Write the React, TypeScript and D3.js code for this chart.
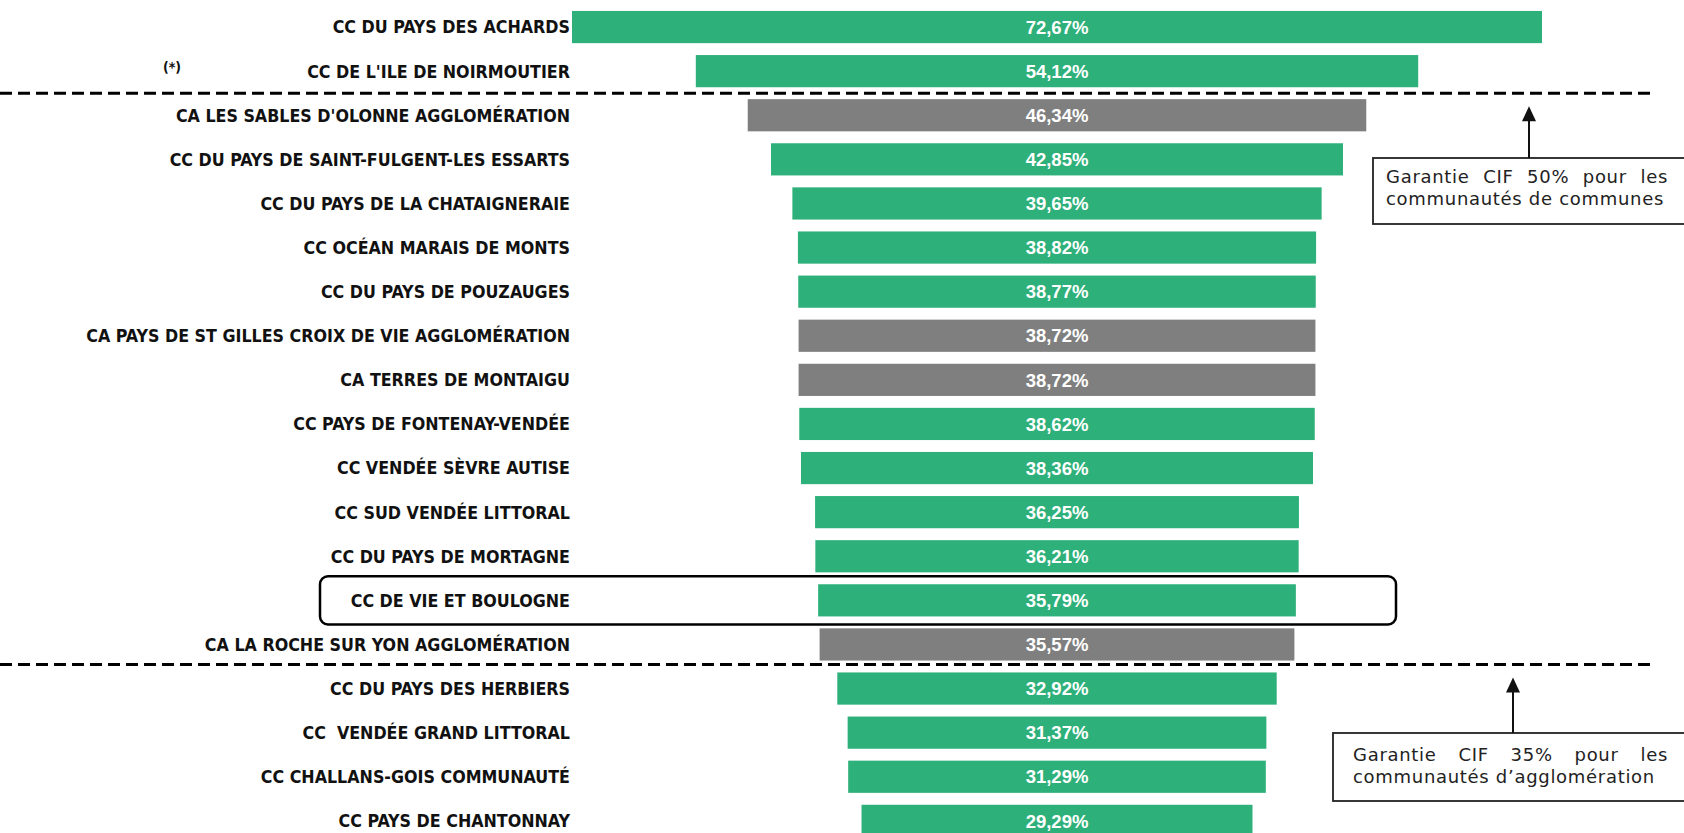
import React, { useEffect, useRef } from 'react';
import * as d3 from 'd3';

const categories = [
  'CC DU PAYS DES ACHARDS',
  "CC DE L'ILE DE NOIRMOUTIER",
  "CA LES SABLES D'OLONNE AGGLOMÉRATION",
  'CC DU PAYS DE SAINT-FULGENT-LES ESSARTS',
  'CC DU PAYS DE LA CHATAIGNERAIE',
  'CC OCÉAN MARAIS DE MONTS',
  'CC DU PAYS DE POUZAUGES',
  'CA PAYS DE ST GILLES CROIX DE VIE AGGLOMÉRATION',
  'CA TERRES DE MONTAIGU',
  'CC PAYS DE FONTENAY-VENDÉE',
  'CC VENDÉE SÈVRE AUTISE',
  'CC SUD VENDÉE LITTORAL',
  'CC DU PAYS DE MORTAGNE',
  'CC DE VIE ET BOULOGNE',
  'CA LA ROCHE SUR YON AGGLOMÉRATION',
  'CC DU PAYS DES HERBIERS',
  'CC  VENDÉE GRAND LITTORAL',
  'CC CHALLANS-GOIS COMMUNAUTÉ',
  'CC PAYS DE CHANTONNAY',
];

const values = [
  72.67, 54.12, 46.34, 42.85, 39.65, 38.82, 38.77, 38.72, 38.72, 38.62,
  38.36, 36.25, 36.21, 35.79, 35.57, 32.92, 31.37, 31.29, 29.29,
];

const kinds = [
  'CC', 'CC', 'CA', 'CC', 'CC', 'CC', 'CC', 'CA', 'CA', 'CC',
  'CC', 'CC', 'CC', 'CC', 'CA', 'CC', 'CC', 'CC', 'CC',
];

const highlighted = 'CC DE VIE ET BOULOGNE';
const footnoteRow = "CC DE L'ILE DE NOIRMOUTIER";
const separatorsAfter = [1, 14];

const note1Lines = ['Garantie CIF 50% pour les', 'communautés de communes'];
const note2Lines = ['Garantie CIF 35% pour les', 'communautés d’agglomération'];

const colors: Record<string, string> = { CC: '#2EB07B', CA: '#7F7F7F' };

export default function App() {
  const ref = useRef<SVGSVGElement>(null);

  useEffect(() => {
    const svg = d3.select(ref.current);
    svg.selectAll('*').remove();

    const cx = 1057;
    const step = 44.1;
    const y = d3
      .scaleBand<string>()
      .domain(categories)
      .range([5, 5 + categories.length * step])
      .paddingInner(0.27)
      .paddingOuter(0.135);
    const w = d3.scaleLinear().domain([0, 72.67]).range([0, 970]);
    const fmt = (v: number) => v.toFixed(2).replace('.', ',') + '%';

    // bars
    svg
      .append('g')
      .selectAll('rect')
      .data(categories)
      .join('rect')
      .attr('x', (d, i) => cx - w(values[i]) / 2)
      .attr('y', (d) => y(d)!)
      .attr('width', (d, i) => w(values[i]))
      .attr('height', y.bandwidth())
      .attr('fill', (d, i) => colors[kinds[i]]);

    // value labels
    svg
      .append('g')
      .selectAll('text')
      .data(categories)
      .join('text')
      .attr('x', cx)
      .attr('y', (d) => y(d)! + y.bandwidth() / 2)
      .attr('dy', '0.36em')
      .attr('text-anchor', 'middle')
      .attr('fill', '#fff')
      .attr('font-family', "'Liberation Sans', Arial, sans-serif")
      .attr('font-weight', 'bold')
      .attr('font-size', 18.5)
      .text((d, i) => fmt(values[i]));

    // category labels
    svg
      .append('g')
      .selectAll('text')
      .data(categories)
      .join('text')
      .attr('x', 570)
      .attr('y', (d) => y(d)! + y.bandwidth() / 2)
      .attr('dy', '0.36em')
      .attr('text-anchor', 'end')
      .attr('fill', '#111')
      .attr('font-family', "'DejaVu Sans Condensed', 'DejaVu Sans', sans-serif")
      .attr('font-stretch', 'condensed')
      .attr('font-weight', 'bold')
      .attr('font-size', 17.7)
      .style('white-space', 'pre')
      .text((d) => d);

    // footnote marker
    svg
      .append('text')
      .attr('x', 172)
      .attr('y', y(footnoteRow)! + y.bandwidth() / 2 - 4)
      .attr('dy', '0.36em')
      .attr('text-anchor', 'middle')
      .attr('fill', '#111')
      .attr('font-family', "'DejaVu Sans Condensed', sans-serif")
      .attr('font-weight', 'bold')
      .attr('font-size', 14)
      .text('(*)');

    // highlight box
    const hy = y(highlighted)!;
    svg
      .append('rect')
      .attr('x', 320)
      .attr('y', hy - 8)
      .attr('width', 1076)
      .attr('height', y.bandwidth() + 16)
      .attr('rx', 8)
      .attr('fill', 'none')
      .attr('stroke', '#000')
      .attr('stroke-width', 2.5);

    // separators
    const sepY = separatorsAfter.map(
      (i) => (y(categories[i])! + y.bandwidth() + y(categories[i + 1])!) / 2
    );
    svg
      .append('g')
      .selectAll('line')
      .data(sepY)
      .join('line')
      .attr('x1', 0)
      .attr('x2', 1654)
      .attr('y1', (d, i) => d - i * 2)
      .attr('y2', (d, i) => d - i * 2)
      .attr('stroke', '#000')
      .attr('stroke-width', 3)
      .attr('stroke-dasharray', '12 6');

    // annotations
    const notes = [
      { lines: note1Lines, boxX: 1373, boxY: 158, boxH: 66, textX: 1386, textR: 1668, arrowX: 1529, lineY: sepY[0], base: 183 },
      { lines: note2Lines, boxX: 1333, boxY: 733, boxH: 68, textX: 1353, textR: 1668, arrowX: 1513, lineY: sepY[1] - 2, base: 761 },
    ];
    const fontFamily = "'DejaVu Sans', sans-serif";
    const fontSize = 18;
    const letterSpacing = 0.7;

    notes.forEach((n) => {
      const g = svg.append('g');
      g.append('rect')
        .attr('x', n.boxX)
        .attr('y', n.boxY)
        .attr('width', 1700 - n.boxX)
        .attr('height', n.boxH)
        .attr('fill', '#fff')
        .attr('stroke', '#222')
        .attr('stroke-width', 1.8);
      const tip = n.lineY + 13;
      g.append('line')
        .attr('x1', n.arrowX)
        .attr('x2', n.arrowX)
        .attr('y1', n.boxY)
        .attr('y2', tip + 10)
        .attr('stroke', '#111')
        .attr('stroke-width', 2);
      g.append('path')
        .attr('d', `M${n.arrowX},${tip} L${n.arrowX - 7},${tip + 15} L${n.arrowX + 7},${tip + 15} Z`)
        .attr('fill', '#111');

      // justified first line
      const words = n.lines[0].split(' ');
      const measured = words.map((word) => {
        const t = g
          .append('text')
          .attr('font-family', fontFamily)
          .attr('font-size', fontSize)
          .attr('letter-spacing', letterSpacing)
          .attr('fill', '#222')
          .attr('y', n.base)
          .text(word);
        return { t, len: (t.node() as SVGTextElement).getComputedTextLength() };
      });
      const total = d3.sum(measured, (m) => m.len);
      const gap = (n.textR - n.textX - total) / (words.length - 1);
      let x = n.textX;
      measured.forEach((m) => {
        m.t.attr('x', x);
        x += m.len + gap;
      });

      g.append('text')
        .attr('x', n.textX)
        .attr('y', n.base + 22)
        .attr('font-family', fontFamily)
        .attr('font-size', fontSize)
        .attr('letter-spacing', letterSpacing)
        .attr('fill', '#222')
        .text(n.lines[1]);
    });
  }, []);

  return (
    <svg
      ref={ref}
      width={1684}
      height={833}
      style={{ position: 'absolute', left: 0, top: 0, background: '#fff' }}
    />
  );
}
